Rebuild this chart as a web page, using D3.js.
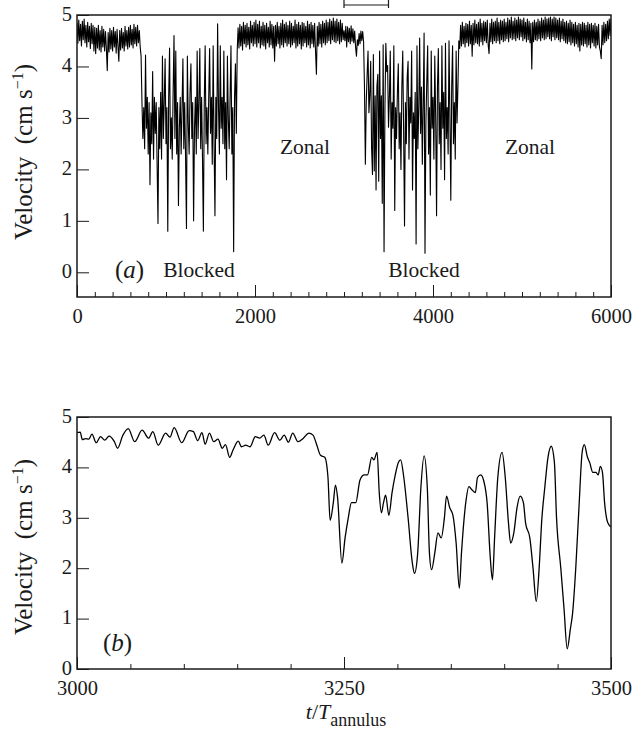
<!DOCTYPE html>
<html><head><meta charset="utf-8">
<script src="https://cdn.jsdelivr.net/npm/d3@7"></script>
<style>
html,body{margin:0;padding:0;background:#fff;}
svg{display:block;font-family:"Liberation Serif","Times New Roman",serif;}
</style></head>
<body>
<svg id="chart" width="632" height="733"></svg>
<script>
// ---------- DATA ----------
// Panel (a): velocity sampled every 10 time units, t = 0 .. 6000
const aStart = 0, aStep = 10;
const aVelocity = [
4.85,4.45,4.90,4.50,4.82,4.40,4.88,4.52,4.92,4.46,
4.80,4.38,4.86,4.48,4.78,4.35,4.84,4.44,4.80,4.30,
4.76,4.25,4.74,4.36,4.80,4.32,4.70,4.28,4.78,4.38,
4.72,4.30,4.68,4.35,3.92,4.66,4.28,4.74,4.34,4.70,
4.30,4.76,4.38,4.68,4.26,4.72,4.40,4.10,4.70,4.32,
4.74,4.36,4.66,4.30,4.78,4.40,4.70,4.34,4.76,4.38,
4.80,4.42,4.72,4.36,4.82,4.44,4.76,4.40,4.80,4.46,
4.70,4.38,4.20,3.30,2.60,3.20,2.40,4.22,2.80,3.40,
2.30,3.30,1.70,3.10,2.50,3.90,2.20,3.40,2.70,3.30,
2.10,0.95,3.20,2.40,3.50,2.20,4.20,2.60,3.30,4.15,
2.50,3.20,0.80,3.40,4.36,2.40,3.00,2.20,3.50,4.60,
2.60,4.30,2.30,3.30,1.30,2.80,3.40,2.30,3.20,4.15,
2.40,3.30,2.20,0.85,4.20,2.90,2.30,3.50,4.05,2.60,
3.30,1.00,2.80,3.40,2.30,4.30,2.60,3.30,4.35,2.40,
3.40,2.20,0.80,3.30,4.40,2.50,3.20,2.30,3.40,4.35,
2.70,3.40,2.10,4.40,2.50,1.10,3.40,2.60,4.83,3.20,
2.30,4.40,2.80,3.40,2.50,4.30,2.40,3.30,1.80,4.20,
3.00,2.40,3.40,4.40,2.30,3.20,0.40,3.40,4.05,2.70,
4.30,4.75,4.36,4.82,4.40,4.78,4.32,4.86,4.44,4.80,
4.38,4.84,4.42,4.76,4.34,4.88,4.46,4.80,4.40,4.86,
4.44,4.90,4.38,4.82,4.46,4.88,4.36,4.78,4.42,4.86,
4.40,4.80,4.34,4.84,4.46,4.76,4.38,4.88,4.42,4.82,
4.36,4.78,4.10,4.80,4.40,4.86,4.44,4.78,4.36,4.84,
4.42,4.90,4.38,4.82,4.46,4.86,4.40,4.80,4.44,4.88,
4.38,4.84,4.42,4.78,4.46,4.90,4.36,4.82,4.40,4.86,
4.44,4.80,4.34,4.86,4.40,4.84,4.46,4.78,4.38,4.88,
4.42,4.82,4.36,4.86,4.44,4.80,4.38,4.84,4.30,3.85,
4.78,4.40,4.86,4.44,4.82,4.38,4.88,4.46,4.84,4.42,
4.90,4.46,4.86,4.50,4.92,4.44,4.88,4.52,4.94,4.48,
4.88,4.46,4.92,4.50,4.86,4.44,4.90,4.48,4.84,4.52,
4.70,4.50,4.78,4.38,4.77,4.48,4.74,4.44,4.79,4.49,
4.73,4.46,4.69,4.38,4.20,4.52,4.41,4.64,4.44,4.69,
4.50,4.68,4.48,3.60,2.10,3.30,3.85,4.30,3.10,3.45,
4.10,2.40,1.90,4.23,1.97,3.43,1.60,3.62,3.85,1.77,
4.30,2.60,3.43,1.34,4.42,0.40,3.20,4.45,3.90,4.02,
2.82,3.40,4.30,2.20,3.30,2.80,4.40,1.20,3.20,2.60,
3.50,4.05,2.40,3.10,2.00,3.60,4.30,2.70,0.90,3.30,
2.50,3.80,4.10,2.20,3.40,2.90,4.30,1.60,3.10,2.60,
3.50,0.55,4.40,2.40,3.20,4.55,2.70,3.60,2.10,3.30,
4.65,0.37,2.90,3.70,4.40,2.30,3.20,1.50,4.30,2.80,
3.40,2.20,4.20,3.00,1.10,3.60,4.35,2.50,3.30,2.00,
4.40,2.80,3.50,1.80,4.45,2.60,3.20,2.30,4.50,3.00,
1.40,3.60,4.40,2.50,3.30,2.20,4.30,2.90,3.60,4.50,
4.35,4.80,4.40,4.86,4.44,4.78,4.38,4.84,4.46,4.82,
4.40,4.88,4.44,4.80,4.20,4.84,4.42,4.90,4.46,4.82,
4.44,4.86,4.40,4.92,4.48,4.84,4.42,4.88,4.50,4.86,
4.46,4.90,4.42,4.25,4.84,4.48,4.92,4.44,4.86,4.50,
4.88,4.46,4.94,4.50,4.86,4.44,4.90,4.52,4.88,4.48,
4.92,4.50,4.86,4.54,4.94,4.48,4.90,4.56,4.96,4.52,
4.88,4.54,4.94,4.50,4.90,4.56,4.96,4.52,4.92,4.58,
4.90,4.50,4.94,4.54,4.86,4.48,4.92,4.52,4.88,4.46,
4.84,3.95,4.86,4.48,4.90,4.52,4.86,4.50,4.92,4.54,
4.88,4.50,4.94,4.56,4.90,4.52,4.96,4.54,4.92,4.58,
4.94,4.54,4.96,4.50,4.92,4.58,4.96,4.52,4.94,4.56,
4.90,4.52,4.94,4.48,4.88,4.54,4.92,4.50,4.86,4.46,
4.88,4.44,4.84,4.48,4.90,4.42,4.86,4.46,4.82,4.40,
4.86,4.44,4.80,4.38,4.84,4.30,4.82,4.42,4.86,4.40,
4.84,4.44,4.80,4.38,4.86,4.42,4.82,4.36,4.84,4.46,
4.80,4.40,4.84,4.36,4.78,4.42,4.82,4.38,4.30,4.15,
4.80,4.42,4.86,4.46,4.82,4.50,4.88,4.54,4.92,4.60,
4.92
];

// Panel (b): detail of t = 3000 .. 3500
const bTime = [
3000,3003,3005,3008,3011,3014,3018,3022,3026,3030,3035,3038,3043,3048,3054,3061,3067,3071,3076,3083,
3087,3091,3098,3105,3109,3113,3117,3120,3124,3128,3132,3136,3139,3143,3146,3151,3154,3158,3162,3167,
3171,3175,3179,3185,3190,3194,3198,3202,3207,3212,3217,3221,3224,3228,3232,3235,3237,3240,3242,3244,
3248,3251,3254,3257,3261,3265,3269,3272,3276,3278,3281,3283,3285,3287,3289,3292,3295,3298,3301,3303,
3306,3310,3314,3316,3319,3322,3325,3328,3330,3332,3335,3338,3341,3344,3346,3349,3352,3355,3358,3360,
3364,3367,3370,3373,3375,3378,3381,3384,3387,3389,3391,3394,3398,3401,3404,3406,3409,3412,3415,3418,
3420,3424,3427,3430,3433,3435,3438,3441,3444,3447,3449,3453,3456,3459,3462,3464,3467,3470,3473,3475,
3478,3480,3483,3486,3488,3490,3492,3494,3497,3500
];
const bVelocity = [
4.69,4.70,4.55,4.57,4.56,4.66,4.49,4.61,4.54,4.62,4.51,4.38,4.64,4.77,4.51,4.74,4.58,4.71,4.44,4.68,
4.60,4.79,4.49,4.73,4.71,4.53,4.69,4.46,4.68,4.51,4.56,4.38,4.45,4.20,4.34,4.52,4.41,4.44,4.41,4.61,
4.58,4.64,4.44,4.69,4.54,4.64,4.50,4.68,4.51,4.58,4.68,4.64,4.48,4.24,4.20,3.80,2.95,3.30,3.65,3.40,
2.10,2.60,3.00,3.30,3.30,3.75,3.85,3.85,4.20,4.15,4.30,3.50,3.10,3.30,3.45,3.05,3.50,3.85,4.10,4.15,
3.80,3.00,2.10,1.90,2.30,3.60,4.23,3.60,2.30,1.97,2.30,2.70,2.60,3.00,3.43,3.20,3.05,2.50,1.60,2.30,
3.30,3.62,3.55,3.50,3.80,3.85,3.72,3.30,2.20,1.77,2.60,3.80,4.30,3.80,2.90,2.50,2.70,3.20,3.43,3.30,
2.90,2.60,2.00,1.34,2.10,2.90,3.60,4.20,4.42,4.10,3.00,2.00,1.20,0.40,0.80,1.10,2.00,3.20,4.30,4.45,
4.20,4.10,3.90,3.90,3.85,4.02,3.90,3.30,2.90,2.82
];

const yTicks = [0, 1, 2, 3, 4, 5];
const aMajorTicks = [0, 2000, 4000, 6000];
const bMajorTicks = [3000, 3250, 3500];
const zoomRange = [3000, 3500];

// ---------- DRAW ----------
const svg = d3.select("#chart");
const L = 77, R = 611;
const ink = "#1a1a1a";
const tickFont = 20.5;
const noteFont = 21.5;

const aData = aVelocity.map((v, i) => ({t: aStart + i * aStep, v}));
const bData = bTime.map((t, i) => ({t, v: bVelocity[i]}));

function panel(cfg) {
  const x = d3.scaleLinear().domain(cfg.xDomain).range([L, R]);
  const y = d3.scaleLinear().domain(cfg.yDomain).range([cfg.bottom, cfg.top]);
  const g = svg.append("g");

  g.append("clipPath").attr("id", cfg.id + "clip")
    .append("rect").attr("x", L).attr("y", cfg.top).attr("width", R - L).attr("height", cfg.bottom - cfg.top);

  const line = d3.line().x(d => x(d.t)).y(d => y(d.v)).curve(cfg.curve);
  g.append("path").datum(cfg.data)
    .attr("clip-path", `url(#${cfg.id}clip)`)
    .attr("fill", "none").attr("stroke", "#000")
    .attr("stroke-width", cfg.lw).attr("stroke-linejoin", "round")
    .attr("d", line);

  // minor x ticks
  const minor = d3.range(cfg.xDomain[0], cfg.xDomain[1] + 1e-9, cfg.minorStep)
    .filter(t => !cfg.majors.includes(t));
  const xAxisMinor = d3.axisBottom(x).tickValues(minor).tickSize(-5).tickFormat("");
  const gm = g.append("g").attr("transform", `translate(0,${cfg.bottom})`).call(xAxisMinor);
  gm.select(".domain").remove();
  gm.selectAll("line").attr("stroke", ink).attr("stroke-width", 1);

  const xAxis = d3.axisBottom(x).tickValues(cfg.majors).tickSize(-12).tickPadding(0).tickFormat(d3.format("d"));
  const gx = g.append("g").attr("transform", `translate(0,${cfg.bottom})`).call(xAxis);
  gx.select(".domain").remove();
  gx.selectAll("line").attr("stroke", ink).attr("stroke-width", 1);
  gx.selectAll("text").attr("y", 26).attr("dy", 0).attr("fill", ink)
    .style("font-family", "Liberation Serif").style("font-size", tickFont + "px");

  const yAxis = d3.axisLeft(y).tickValues(yTicks).tickSize(-12).tickPadding(5).tickFormat(d3.format("d"));
  const gy = g.append("g").attr("transform", `translate(${L},0)`).call(yAxis);
  gy.select(".domain").remove();
  gy.selectAll("line").attr("stroke", ink).attr("stroke-width", 1);
  gy.selectAll("text").attr("dy", "0.26em").attr("fill", ink)
    .style("font-family", "Liberation Serif").style("font-size", tickFont + "px");

  // frame
  g.append("rect").attr("x", L).attr("y", cfg.top).attr("width", R - L).attr("height", cfg.bottom - cfg.top)
    .attr("fill", "none").attr("stroke", ink).attr("stroke-width", 1.5);

  // y label
  const yl = g.append("text")
    .attr("transform", `translate(32,${cfg.labelY}) rotate(-90)`)
    .attr("text-anchor", "middle").attr("fill", ink)
    .style("font-size", "25px");
  yl.append("tspan").text("Velocity\u00a0\u00a0(cm s");
  yl.append("tspan").attr("dy", -9).style("font-size", "16px").text("\u22121");
  yl.append("tspan").attr("dy", 9).text(")");

  return {x, y, g};
}

const A = panel({id: "a", xDomain: [0, 6000], yDomain: [-0.48, 5], top: 15, bottom: 297, labelY: 152,
  data: aData, lw: 1.1, curve: d3.curveLinear, minorStep: 200, majors: aMajorTicks});
const B = panel({id: "b", xDomain: [3000, 3500], yDomain: [0, 5], top: 417, bottom: 669, labelY: 547,
  data: bData, lw: 1.3, curve: d3.curveMonotoneX, minorStep: 50, majors: bMajorTicks});

// bracket marking the zoomed interval on panel (a)
const bx0 = A.x(zoomRange[0]), bx1 = A.x(zoomRange[1]);
svg.append("path")
  .attr("d", `M${bx0},0 V8 M${bx1},0 V8 M${bx0},5 H${bx1}`)
  .attr("stroke", ink).attr("stroke-width", 1.2).attr("fill", "none");

// annotations
function label(g, x, y, parts, anchor, size) {
  const t = g.append("text").attr("x", x).attr("y", y).attr("fill", ink)
    .attr("text-anchor", anchor || "start").style("font-size", (size || noteFont) + "px");
  parts.forEach(p => {
    const s = t.append("tspan").text(p.text);
    if (p.italic) s.style("font-style", "italic");
  });
  return t;
}
label(A.g, 115, 278, [{text: "("}, {text: "a", italic: true}, {text: ")"}], "start", 25);
label(A.g, 199, 277, [{text: "Blocked"}], "middle");
label(A.g, 424, 277, [{text: "Blocked"}], "middle");
label(A.g, 305, 154, [{text: "Zonal"}], "middle");
label(A.g, 530, 154, [{text: "Zonal"}], "middle");
label(B.g, 103, 651, [{text: "("}, {text: "b", italic: true}, {text: ")"}], "start", 25);

// x axis title
const xt = svg.append("text").attr("x", 346).attr("y", 719).attr("text-anchor", "middle")
  .attr("fill", ink).style("font-size", "22px");
xt.append("tspan").style("font-style", "italic").text("t");
xt.append("tspan").text("/");
xt.append("tspan").style("font-style", "italic").text("T");
xt.append("tspan").attr("dy", 7).style("font-size", "18px").text("annulus");
</script>
</body></html>
